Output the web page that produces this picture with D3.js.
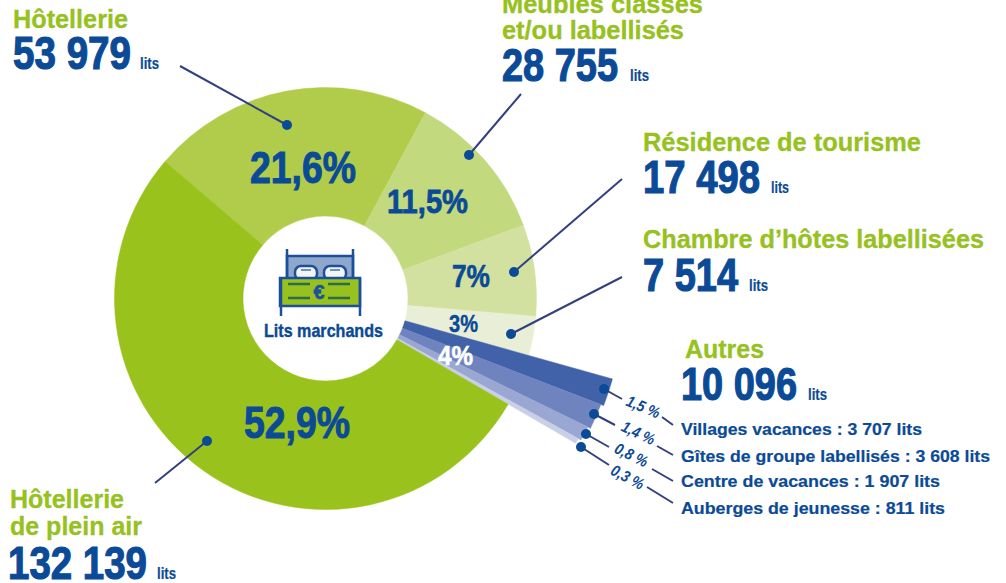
<!DOCTYPE html>
<html>
<head>
<meta charset="utf-8">
<script src="https://cdn.jsdelivr.net/npm/d3@7"></script>
<style>
  body { margin: 0; background: #fff; }
  svg { display: block; }
  text { font-family: "Liberation Sans", Arial, sans-serif; font-weight: bold; }
</style>
</head>
<body>
<svg width="1006" height="583"></svg>
<script>
// slices, clockwise from the top left
const categories = ['Hôtellerie', 'Meublés classés et/ou labellisés', 'Résidence de tourisme', 'Chambre d’hôtes labellisées',
                    'Villages vacances', 'Gîtes de groupe labellisés', 'Centre de vacances', 'Auberges de jeunesse', 'Hôtellerie de plein air']
const shares = [21.6, 11.5, 7, 3, 1.5, 1.4, 0.8, 0.3, 52.9]
const beds = ['53 979', '28 755', '17 498', '7 514', '10 096', '132 139']
const shareLabels = ['21,6%', '11,5%', '7%', '3%', '4%', '52,9%']
const autresShares = ['1,5 %', '1,4 %', '0,8 %', '0,3 %']
const autresRows = ['Villages vacances : 3 707 lits', 'Gîtes de groupe labellisés : 3 608 lits',
                    'Centre de vacances : 1 907 lits', 'Auberges de jeunesse : 811 lits']

const GREEN = '#96c11f', BLUE = '#0b4a96', LINE = '#33407f'
const sliceColors = ['#b0cc4a', '#c3d97e', '#d3e1a0', '#e9efd6', '#4161a9', '#6f83bf', '#9aa7d2', '#c9cfe6', '#99c21d']
const outerRadius = [211, 211, 211, 211, 298, 295, 292, 289, 211]
const rad = d => d * Math.PI / 180

const svg = d3.select('svg')
const donut = svg.append('g').attr('transform', 'translate(325.5,298.5)')

const pie = d3.pie().sort(null).startAngle(rad(-49.5)).endAngle(rad(310.5))
const arc = d3.arc().innerRadius(82.5)

const slices = pie(shares).map((d, i) => ({ ...d, i }))
donut.selectAll('path')
  .data(slices)
  .enter()
  .append('path')
  .attr('d', d => arc.outerRadius(outerRadius[d.i])(d))
  .attr('fill', d => sliceColors[d.i])
  .attr('stroke', d => sliceColors[d.i])
  .attr('stroke-width', 0.5)

// text helper: width is forced because the original uses a condensed face,
// heavy adds a thin outline to get that face's weight back
function label(str, x, end, y, size, color, heavy) {
  return svg.append('text')
    .attr('x', x).attr('y', y)
    .attr('font-size', size)
    .attr('fill', color)
    .attr('stroke', heavy ? color : 'none')
    .attr('stroke-width', heavy || 0)
    .attr('textLength', end - x)
    .attr('lengthAdjust', 'spacingAndGlyphs')
    .text(str)
}

// bed icon
const bed = svg.append('g').attr('stroke', '#1c4f9c').attr('stroke-width', 2.5)
bed.append('rect').attr('x', 287).attr('y', 256).attr('width', 66).attr('height', 23).attr('fill', '#8fa7cb')
bed.append('line').attr('x1', 287).attr('x2', 287).attr('y1', 249).attr('y2', 279)
bed.append('line').attr('x1', 353).attr('x2', 353).attr('y1', 249).attr('y2', 279)
bed.append('rect').attr('x', 295).attr('y', 266).attr('width', 22).attr('height', 14).attr('rx', 6).attr('fill', '#f2f4f8')
bed.append('rect').attr('x', 324).attr('y', 266).attr('width', 22).attr('height', 14).attr('rx', 6).attr('fill', '#f2f4f8')
bed.append('line').attr('x1', 301).attr('x2', 311).attr('y1', 270).attr('y2', 270).attr('stroke-width', 1.2)
bed.append('line').attr('x1', 330).attr('x2', 340).attr('y1', 270).attr('y2', 270).attr('stroke-width', 1.2)
bed.append('rect').attr('x', 280).attr('y', 278).attr('width', 80).attr('height', 28).attr('fill', GREEN)
bed.append('line').attr('x1', 281).attr('x2', 281).attr('y1', 278).attr('y2', 316)
bed.append('line').attr('x1', 360).attr('x2', 360).attr('y1', 278).attr('y2', 316)
const sheet = bed.append('g').attr('stroke', '#2f6b4a')
;[[288, 310, 284], [328, 350, 284], [288, 310, 298], [328, 350, 298]].forEach(s => {
  sheet.append('line').attr('x1', s[0]).attr('x2', s[1]).attr('y1', s[2]).attr('y2', s[2])
})
svg.append('text').attr('x', 319).attr('y', 299).attr('text-anchor', 'middle')
  .attr('font-size', 20).attr('fill', '#1c4f9c').attr('stroke', '#1c4f9c').attr('stroke-width', 0.5).text('€')

label('Lits marchands', 264, 383, 337, 18.5, BLUE, 0.4)

// leader lines, [outer x, outer y, dot x, dot y]
const leaders = [[180, 66, 287, 125], [521, 94, 469, 155], [622, 179, 514, 272], [622, 277, 511, 334], [155, 483, 207, 441]]
// the four small slices have a line broken by their label
const autresLeaders = [[604, 389, 622, 399, 662, 417, 673, 425], [594, 414, 615, 425, 657, 446, 673, 455],
                       [586, 434, 609, 447, 652, 469, 673, 481], [581, 447, 609, 465, 647, 487, 673, 503]]

svg.selectAll('.leader').data(leaders).enter().append('line')
  .attr('class', 'leader')
  .attr('x1', d => d[0]).attr('y1', d => d[1]).attr('x2', d => d[2]).attr('y2', d => d[3])
  .attr('stroke', LINE).attr('stroke-width', 2)
svg.selectAll('.dot').data(leaders).enter().append('circle')
  .attr('class', 'dot')
  .attr('cx', d => d[2]).attr('cy', d => d[3]).attr('r', 5).attr('fill', BLUE)

autresLeaders.forEach(d => {
  svg.append('line').attr('x1', d[0]).attr('y1', d[1]).attr('x2', d[2]).attr('y2', d[3]).attr('stroke', LINE).attr('stroke-width', 2)
  svg.append('line').attr('x1', d[4]).attr('y1', d[5]).attr('x2', d[6]).attr('y2', d[7]).attr('stroke', LINE).attr('stroke-width', 2)
  svg.append('circle').attr('cx', d[0]).attr('cy', d[1]).attr('r', 5).attr('fill', BLUE)
})

// tilted percentages next to the small slices
const autresPos = [[641, 412, 23], [636, 438, 25], [629, 460, 26], [625, 482, 28]]
autresShares.forEach((s, i) => {
  const p = autresPos[i]
  svg.append('text')
    .attr('transform', `translate(${p[0]},${p[1]}) rotate(${p[2]})`)
    .attr('text-anchor', 'middle')
    .attr('font-size', 16).attr('font-style', 'italic')
    .attr('fill', BLUE)
    .attr('textLength', 35)
    .attr('lengthAdjust', 'spacingAndGlyphs')
    .text(s)
})

// percentages on the ring
const shareBoxes = [[250, 356, 183, 44, 1], [387, 468, 213, 34, 0.8], [452, 490, 287, 31, 0.6], [449, 478, 332, 24, 0.4], [438, 473, 365, 28, 0.6], [244, 350, 438, 44, 1]]
shareLabels.forEach((s, i) => {
  const b = shareBoxes[i]
  label(s, b[0], b[1], b[2], b[3], i === 4 ? '#fff' : BLUE, b[4])
})

// green titles
const titles = [['Hôtellerie', 13, 128, 28], ['Meublés classés', 502, 703, 13], ['et/ou labellisés', 502, 684, 39],
                ['Résidence de tourisme', 643, 921, 151], ['Chambre d’hôtes labellisées', 643, 984, 248],
                ['Autres', 685, 764, 358], ['Hôtellerie', 10, 124, 508], ['de plein air', 10, 142, 535]]
titles.forEach(t => label(t[0], t[1], t[2], t[3], 25, GREEN, 0.3))

// bed counts and their small "lits"
const countBoxes = [[13, 131, 69, 140, 159], [502, 618, 81, 630, 649], [643, 760, 193, 771, 789],
                    [643, 738, 291, 749, 768], [681, 797, 400, 808, 827], [8, 147, 579, 157, 176]]
beds.forEach((s, i) => {
  const b = countBoxes[i]
  label(s, b[0], b[1], b[2], 46, BLUE, 1.2)
  label('lits', b[3], b[4], b[2], 16, BLUE, 0.2)
})

// detail of "Autres"
const rowBoxes = [[922, 435], [990, 462], [940, 487], [945, 514]]
autresRows.forEach((s, i) => label(s, 681, rowBoxes[i][0], rowBoxes[i][1], 16.5, BLUE, 0.2))
</script>
</body>
</html>
